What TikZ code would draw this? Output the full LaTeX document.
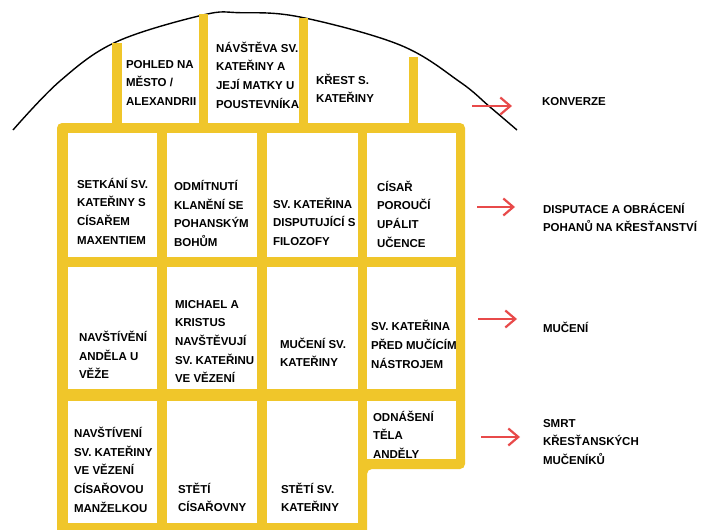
\documentclass[tikz,border=0pt]{standalone}
\usepackage{fontspec}
\setmainfont{Liberation Sans}
\usetikzlibrary{arrows.meta}
\definecolor{gold}{RGB}{240,198,42}
\definecolor{arrowred}{RGB}{232,74,74}
\begin{document}
\begin{tikzpicture}[x=1pt,y=-1pt,
  lbl/.style={anchor=north west, yshift=13.09pt, inner sep=0pt, outer sep=0pt, align=left,
    font=\fontsize{11.5}{18.7}\selectfont\bfseries},
  cell/.style={fill=white, inner sep=0pt, outer sep=0pt, anchor=north west},
  redarrow/.style={draw=arrowred, line width=2.2pt, -{Straight Barb[length=10pt,width=17pt]}}]
\useasboundingbox (0,0) rectangle (702,530);
\fill[white] (0,0) rectangle (702,530);
% arc
\draw[line width=1.4pt, black] plot[smooth, tension=0.6] coordinates
  {(13,130) (60,81) (116,42) (203,15) (240,12.7) (300,17) (400,45) (460,82) (490,107) (517,130)};
% yellow frame
\begin{scope}
\clip (0,0) rectangle (702,530);
\fill[gold, rounded corners=5pt] (57,123) -- (465,123) -- (465,469) -- (367,469) -- (367,540) -- (57,540) -- cycle;
\end{scope}
\fill[gold] (112,43) rectangle (122,128);
\fill[gold] (199,14) rectangle (208,128);
\fill[gold] (299,18) rectangle (308,128);
\fill[gold] (409,57) rectangle (418,128);
% cells
\node[cell, minimum width=89pt, minimum height=124pt] (c11) at (68,133) {};
\node[cell, minimum width=90pt, minimum height=124pt] (c12) at (167,133) {};
\node[cell, minimum width=91pt, minimum height=124pt] (c13) at (267,133) {};
\node[cell, minimum width=89pt, minimum height=124pt] (c14) at (367,133) {};
\node[cell, minimum width=89pt, minimum height=122pt] (c21) at (68,267) {};
\node[cell, minimum width=90pt, minimum height=122pt] (c22) at (167,267) {};
\node[cell, minimum width=91pt, minimum height=122pt] (c23) at (267,267) {};
\node[cell, minimum width=89pt, minimum height=122pt] (c24) at (367,267) {};
\node[cell, minimum width=89pt, minimum height=122pt] (c31) at (68,401) {};
\node[cell, minimum width=90pt, minimum height=122pt] (c32) at (167,401) {};
\node[cell, minimum width=91pt, minimum height=122pt] (c33) at (267,401) {};
\node[cell, minimum width=89pt, minimum height=58pt] (c34) at (367,401) {};
% texts top row
\node[lbl] (t1) at (126,68) {\strut POHLED NA\\MĚSTO /\\ALEXANDRII};
\node[lbl] (t2) at (216,52) {\strut NÁVŠTĚVA SV.\\KATEŘINY A\\JEJÍ MATKY U\\POUSTEVNÍKA};
\node[lbl] (t3) at (316,84) {\strut KŘEST S.\\KATEŘINY};
% row 1
\node[lbl] (x11) at (77,188) {\strut SETKÁNÍ SV.\\KATEŘINY S\\CÍSAŘEM\\MAXENTIEM};
\node[lbl] (x12) at (174,190.5) {\strut ODMÍTNUTÍ\\KLANĚNÍ SE\\POHANSKÝM\\BOHŮM};
\node[lbl] (x13) at (273,208) {\strut SV. KATEŘINA\\DISPUTUJÍCÍ S\\FILOZOFY};
\node[lbl] (x14) at (377,191) {\strut CÍSAŘ\\POROUČÍ\\UPÁLIT\\UČENCE};
% row 2
\node[lbl] (x21) at (79,341.5) {\strut NAVŠTÍVĚNÍ\\ANDĚLA U\\VĚŽE};
\node[lbl] (x22) at (175,308) {\strut MICHAEL A\\KRISTUS\\NAVŠTĚVUJÍ\\SV. KATEŘINU\\VE VĚZENÍ};
\node[lbl] (x23) at (280,348) {\strut MUČENÍ SV.\\KATEŘINY};
\node[lbl] (x24) at (371,330.7) {\strut SV. KATEŘINA\\PŘED MUČÍCÍM\\NÁSTROJEM};
% row 3
\node[lbl] (x31) at (74,437.5) {\strut NAVŠTÍVENÍ\\SV. KATEŘINY\\VE VĚZENÍ\\CÍSAŘOVOU\\MANŽELKOU};
\node[lbl] (x32) at (178,493) {\strut STĚTÍ\\CÍSAŘOVNY};
\node[lbl] (x33) at (281,493) {\strut STĚTÍ SV.\\KATEŘINY};
\node[lbl] (x34) at (373,421) {\strut ODNÁŠENÍ\\TĚLA\\ANDĚLY};
% right labels
\node[lbl] (l1) at (542,105) {\strut KONVERZE};
\node[lbl] (l2) at (543,213) {\strut DISPUTACE A OBRÁCENÍ\\POHANŮ NA KŘESŤANSTVÍ};
\node[lbl] (l3) at (543,332) {\strut MUČENÍ};
\node[lbl] (l4) at (543,427) {\strut SMRT\\KŘESŤANSKÝCH\\MUČENÍKŮ};
% arrows
\coordinate (a1s) at (472,106); \coordinate (a1e) at (512,106);
\coordinate (a2s) at (477,207); \coordinate (a2e) at (515,207);
\coordinate (a3s) at (478,319); \coordinate (a3e) at (517,319);
\coordinate (a4s) at (481,437); \coordinate (a4e) at (520,437);
\draw[redarrow] (a1s) -- (a1e);
\draw[redarrow] (a2s) -- (a2e);
\draw[redarrow] (a3s) -- (a3e);
\draw[redarrow] (a4s) -- (a4e);
\end{tikzpicture}
\end{document}
